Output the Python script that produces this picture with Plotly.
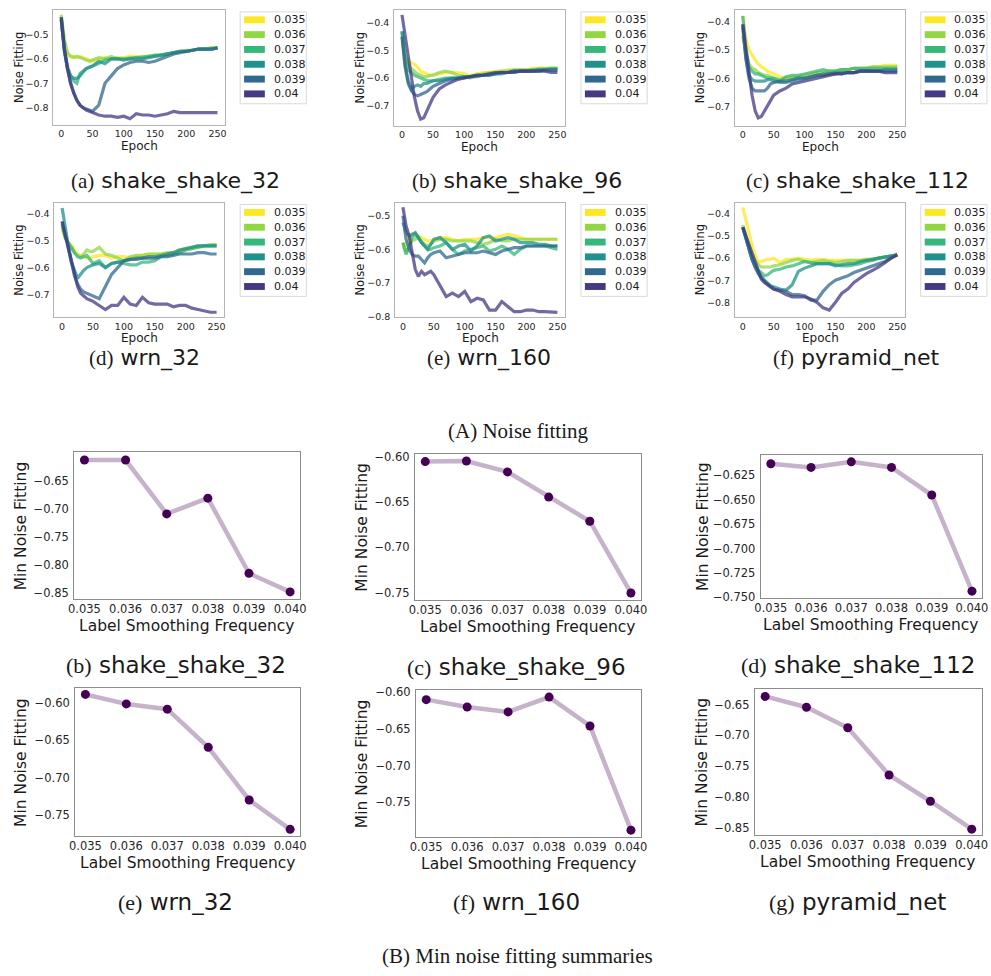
import plotly.graph_objects as go

W, H = 991, 976

# ---------------- data ----------------
EPOCHS = [0, 5, 10, 15, 20, 25, 30, 35, 40, 45, 50, 60, 70, 80, 90, 100, 110, 120,
          130, 140, 150, 160, 170, 180, 190, 200, 210, 220, 230, 240, 250]
LS_LABELS = ["0.035", "0.036", "0.037", "0.038", "0.039", "0.04"]
LS_FREQS = [0.035, 0.036, 0.037, 0.038, 0.039, 0.040]
COLORS = ["#fde725", "#90d743", "#35b779", "#21918c", "#31688e", "#443983"]
MODELS = ["shake_shake_32", "shake_shake_96", "shake_shake_112", "wrn_32", "wrn_160", "pyramid_net"]

NF_SHAKE_SHAKE_32 = [
    [-0.43,-0.53,-0.58,-0.59,-0.59,-0.595,-0.59,-0.595,-0.60,-0.605,-0.61,-0.60,-0.595,-0.60,-0.595,-0.595,-0.59,-0.59,-0.595,-0.59,-0.585,-0.585,-0.58,-0.575,-0.57,-0.57,-0.565,-0.56,-0.56,-0.555,-0.555],
    [-0.42,-0.52,-0.575,-0.59,-0.595,-0.59,-0.595,-0.60,-0.605,-0.61,-0.605,-0.595,-0.60,-0.59,-0.60,-0.60,-0.595,-0.595,-0.59,-0.59,-0.59,-0.585,-0.58,-0.575,-0.57,-0.565,-0.565,-0.56,-0.56,-0.555,-0.555],
    [-0.44,-0.56,-0.63,-0.67,-0.69,-0.70,-0.66,-0.65,-0.64,-0.635,-0.63,-0.62,-0.605,-0.60,-0.60,-0.60,-0.60,-0.595,-0.595,-0.59,-0.585,-0.585,-0.58,-0.575,-0.57,-0.57,-0.565,-0.56,-0.56,-0.56,-0.555],
    [-0.44,-0.57,-0.64,-0.67,-0.68,-0.68,-0.67,-0.655,-0.64,-0.635,-0.63,-0.61,-0.62,-0.60,-0.60,-0.605,-0.60,-0.60,-0.60,-0.595,-0.59,-0.585,-0.58,-0.575,-0.57,-0.57,-0.565,-0.56,-0.56,-0.56,-0.555],
    [-0.43,-0.56,-0.64,-0.70,-0.74,-0.77,-0.79,-0.80,-0.805,-0.81,-0.815,-0.79,-0.70,-0.67,-0.64,-0.625,-0.615,-0.61,-0.61,-0.615,-0.61,-0.60,-0.59,-0.58,-0.575,-0.57,-0.565,-0.56,-0.56,-0.56,-0.555],
    [-0.43,-0.56,-0.64,-0.70,-0.74,-0.77,-0.79,-0.80,-0.81,-0.815,-0.82,-0.83,-0.835,-0.835,-0.84,-0.835,-0.845,-0.825,-0.83,-0.83,-0.835,-0.83,-0.825,-0.815,-0.82,-0.82,-0.82,-0.82,-0.82,-0.82,-0.82],
]
NF_SHAKE_SHAKE_96 = [
    [-0.47,-0.52,-0.535,-0.545,-0.55,-0.56,-0.575,-0.58,-0.585,-0.59,-0.59,-0.585,-0.58,-0.58,-0.58,-0.585,-0.59,-0.585,-0.58,-0.58,-0.575,-0.575,-0.57,-0.57,-0.57,-0.57,-0.565,-0.565,-0.565,-0.565,-0.565],
    [-0.45,-0.52,-0.55,-0.565,-0.575,-0.585,-0.59,-0.595,-0.595,-0.59,-0.59,-0.58,-0.575,-0.58,-0.59,-0.595,-0.60,-0.59,-0.585,-0.58,-0.58,-0.575,-0.575,-0.57,-0.57,-0.57,-0.57,-0.565,-0.565,-0.565,-0.565],
    [-0.43,-0.53,-0.57,-0.58,-0.59,-0.595,-0.60,-0.605,-0.61,-0.61,-0.61,-0.605,-0.60,-0.60,-0.60,-0.595,-0.595,-0.59,-0.59,-0.585,-0.585,-0.58,-0.58,-0.575,-0.575,-0.575,-0.57,-0.57,-0.57,-0.565,-0.565],
    [-0.43,-0.55,-0.61,-0.64,-0.63,-0.625,-0.63,-0.62,-0.62,-0.615,-0.61,-0.61,-0.605,-0.60,-0.60,-0.595,-0.595,-0.59,-0.59,-0.59,-0.585,-0.585,-0.58,-0.58,-0.575,-0.575,-0.575,-0.57,-0.57,-0.57,-0.57],
    [-0.45,-0.56,-0.62,-0.645,-0.66,-0.665,-0.66,-0.655,-0.65,-0.64,-0.63,-0.62,-0.61,-0.605,-0.60,-0.60,-0.595,-0.595,-0.59,-0.59,-0.585,-0.58,-0.58,-0.58,-0.575,-0.575,-0.575,-0.575,-0.57,-0.57,-0.57],
    [-0.37,-0.45,-0.53,-0.60,-0.67,-0.72,-0.75,-0.745,-0.72,-0.695,-0.67,-0.64,-0.625,-0.615,-0.605,-0.60,-0.595,-0.59,-0.59,-0.585,-0.58,-0.58,-0.58,-0.575,-0.575,-0.575,-0.575,-0.575,-0.575,-0.58,-0.58],
]
NF_SHAKE_SHAKE_112 = [
    [-0.38,-0.46,-0.50,-0.52,-0.535,-0.55,-0.56,-0.565,-0.575,-0.58,-0.585,-0.595,-0.60,-0.595,-0.595,-0.59,-0.59,-0.585,-0.58,-0.58,-0.575,-0.57,-0.57,-0.565,-0.565,-0.565,-0.56,-0.56,-0.555,-0.555,-0.555],
    [-0.45,-0.51,-0.55,-0.565,-0.57,-0.58,-0.585,-0.59,-0.59,-0.595,-0.60,-0.605,-0.60,-0.60,-0.595,-0.59,-0.585,-0.58,-0.58,-0.575,-0.575,-0.57,-0.57,-0.565,-0.565,-0.565,-0.56,-0.56,-0.56,-0.56,-0.56],
    [-0.38,-0.50,-0.56,-0.575,-0.585,-0.585,-0.59,-0.595,-0.60,-0.60,-0.60,-0.61,-0.595,-0.59,-0.59,-0.585,-0.58,-0.575,-0.57,-0.575,-0.575,-0.57,-0.57,-0.565,-0.565,-0.565,-0.565,-0.565,-0.565,-0.565,-0.565],
    [-0.42,-0.53,-0.59,-0.605,-0.61,-0.61,-0.61,-0.61,-0.605,-0.605,-0.61,-0.615,-0.615,-0.61,-0.605,-0.60,-0.595,-0.59,-0.585,-0.585,-0.58,-0.585,-0.58,-0.58,-0.575,-0.575,-0.575,-0.575,-0.57,-0.57,-0.57],
    [-0.41,-0.53,-0.60,-0.635,-0.645,-0.645,-0.645,-0.645,-0.635,-0.62,-0.615,-0.61,-0.61,-0.605,-0.60,-0.60,-0.595,-0.59,-0.59,-0.585,-0.585,-0.58,-0.58,-0.58,-0.575,-0.575,-0.575,-0.575,-0.575,-0.575,-0.575],
    [-0.41,-0.50,-0.59,-0.66,-0.715,-0.74,-0.735,-0.715,-0.695,-0.68,-0.66,-0.645,-0.635,-0.62,-0.615,-0.61,-0.605,-0.60,-0.595,-0.59,-0.585,-0.585,-0.58,-0.58,-0.575,-0.575,-0.575,-0.575,-0.58,-0.58,-0.58],
]
NF_WRN_32 = [
    [-0.46,-0.49,-0.505,-0.52,-0.535,-0.55,-0.555,-0.56,-0.565,-0.565,-0.56,-0.555,-0.555,-0.565,-0.56,-0.56,-0.565,-0.56,-0.555,-0.55,-0.55,-0.55,-0.55,-0.55,-0.54,-0.535,-0.53,-0.525,-0.52,-0.52,-0.515],
    [-0.45,-0.49,-0.51,-0.53,-0.545,-0.555,-0.56,-0.55,-0.535,-0.54,-0.54,-0.525,-0.55,-0.555,-0.565,-0.575,-0.56,-0.555,-0.555,-0.55,-0.55,-0.55,-0.545,-0.545,-0.535,-0.53,-0.525,-0.52,-0.52,-0.515,-0.515],
    [-0.44,-0.49,-0.51,-0.525,-0.545,-0.56,-0.565,-0.56,-0.555,-0.57,-0.585,-0.575,-0.60,-0.585,-0.58,-0.585,-0.59,-0.59,-0.58,-0.58,-0.575,-0.56,-0.555,-0.55,-0.545,-0.535,-0.53,-0.525,-0.52,-0.52,-0.52],
    [-0.38,-0.46,-0.52,-0.58,-0.61,-0.64,-0.625,-0.61,-0.60,-0.595,-0.59,-0.585,-0.60,-0.585,-0.58,-0.575,-0.57,-0.565,-0.565,-0.56,-0.56,-0.555,-0.55,-0.545,-0.535,-0.53,-0.525,-0.52,-0.52,-0.52,-0.52],
    [-0.43,-0.48,-0.54,-0.59,-0.63,-0.66,-0.68,-0.69,-0.695,-0.70,-0.705,-0.715,-0.67,-0.625,-0.60,-0.575,-0.57,-0.57,-0.565,-0.565,-0.565,-0.56,-0.56,-0.555,-0.55,-0.55,-0.55,-0.545,-0.545,-0.55,-0.55],
    [-0.43,-0.48,-0.53,-0.58,-0.625,-0.67,-0.695,-0.705,-0.715,-0.72,-0.725,-0.74,-0.755,-0.74,-0.74,-0.71,-0.735,-0.74,-0.71,-0.73,-0.735,-0.735,-0.735,-0.745,-0.74,-0.74,-0.75,-0.755,-0.76,-0.765,-0.765],
]
NF_WRN_160 = [
    [-0.60,-0.58,-0.565,-0.555,-0.555,-0.56,-0.565,-0.57,-0.575,-0.575,-0.57,-0.565,-0.565,-0.57,-0.575,-0.57,-0.57,-0.57,-0.565,-0.565,-0.565,-0.56,-0.555,-0.56,-0.565,-0.57,-0.57,-0.57,-0.57,-0.57,-0.57],
    [-0.58,-0.61,-0.59,-0.575,-0.57,-0.565,-0.575,-0.585,-0.59,-0.585,-0.575,-0.57,-0.57,-0.575,-0.575,-0.575,-0.575,-0.58,-0.585,-0.58,-0.57,-0.575,-0.575,-0.57,-0.57,-0.57,-0.57,-0.57,-0.57,-0.57,-0.57],
    [-0.58,-0.615,-0.59,-0.565,-0.555,-0.565,-0.58,-0.59,-0.60,-0.60,-0.595,-0.59,-0.58,-0.60,-0.615,-0.605,-0.60,-0.595,-0.59,-0.605,-0.60,-0.59,-0.60,-0.615,-0.60,-0.59,-0.59,-0.59,-0.59,-0.595,-0.60],
    [-0.52,-0.55,-0.56,-0.555,-0.55,-0.565,-0.58,-0.59,-0.60,-0.585,-0.57,-0.565,-0.58,-0.60,-0.59,-0.585,-0.605,-0.59,-0.565,-0.56,-0.575,-0.57,-0.565,-0.57,-0.58,-0.58,-0.58,-0.585,-0.585,-0.59,-0.59],
    [-0.50,-0.57,-0.60,-0.615,-0.62,-0.62,-0.63,-0.64,-0.625,-0.615,-0.61,-0.605,-0.625,-0.62,-0.615,-0.61,-0.61,-0.61,-0.605,-0.61,-0.615,-0.605,-0.60,-0.595,-0.595,-0.59,-0.59,-0.59,-0.59,-0.59,-0.59],
    [-0.475,-0.53,-0.56,-0.61,-0.66,-0.68,-0.665,-0.675,-0.67,-0.665,-0.675,-0.71,-0.74,-0.73,-0.74,-0.725,-0.755,-0.745,-0.75,-0.78,-0.78,-0.755,-0.77,-0.785,-0.785,-0.78,-0.78,-0.785,-0.785,-0.785,-0.787],
]
NF_PYRAMID_NET = [
    [-0.37,-0.43,-0.48,-0.54,-0.585,-0.62,-0.615,-0.61,-0.605,-0.605,-0.60,-0.62,-0.605,-0.605,-0.60,-0.605,-0.61,-0.605,-0.605,-0.61,-0.61,-0.61,-0.61,-0.61,-0.61,-0.605,-0.605,-0.60,-0.595,-0.59,-0.58],
    [-0.45,-0.50,-0.54,-0.58,-0.61,-0.63,-0.64,-0.64,-0.64,-0.64,-0.635,-0.63,-0.62,-0.61,-0.605,-0.615,-0.62,-0.615,-0.61,-0.615,-0.62,-0.615,-0.61,-0.61,-0.61,-0.605,-0.605,-0.60,-0.595,-0.59,-0.585],
    [-0.46,-0.51,-0.56,-0.605,-0.63,-0.655,-0.665,-0.68,-0.675,-0.665,-0.655,-0.65,-0.64,-0.635,-0.625,-0.615,-0.62,-0.625,-0.625,-0.625,-0.63,-0.635,-0.635,-0.63,-0.625,-0.615,-0.61,-0.60,-0.595,-0.59,-0.585],
    [-0.46,-0.51,-0.56,-0.605,-0.64,-0.665,-0.685,-0.70,-0.715,-0.725,-0.73,-0.74,-0.745,-0.72,-0.66,-0.645,-0.635,-0.625,-0.625,-0.625,-0.635,-0.63,-0.625,-0.625,-0.615,-0.61,-0.605,-0.60,-0.595,-0.59,-0.585],
    [-0.46,-0.51,-0.56,-0.605,-0.64,-0.67,-0.69,-0.705,-0.72,-0.73,-0.74,-0.745,-0.75,-0.765,-0.765,-0.77,-0.79,-0.79,-0.75,-0.72,-0.70,-0.69,-0.68,-0.665,-0.655,-0.645,-0.635,-0.625,-0.615,-0.60,-0.585],
    [-0.46,-0.50,-0.54,-0.58,-0.62,-0.66,-0.695,-0.71,-0.72,-0.73,-0.74,-0.75,-0.765,-0.775,-0.775,-0.775,-0.785,-0.80,-0.825,-0.835,-0.80,-0.76,-0.74,-0.71,-0.69,-0.67,-0.655,-0.64,-0.62,-0.60,-0.585],
]

MIN_SHAKE_SHAKE_32 = [-0.613, -0.613, -0.709, -0.681, -0.815, -0.848]
MIN_SHAKE_SHAKE_96 = [-0.6054, -0.6048, -0.6168, -0.6446, -0.6712, -0.7503]
MIN_SHAKE_SHAKE_112 = [-0.6132, -0.6169, -0.6112, -0.6169, -0.6452, -0.7437]
MIN_WRN_32 = [-0.5885, -0.6013, -0.6083, -0.6595, -0.7300, -0.7693]
MIN_WRN_160 = [-0.6102, -0.6202, -0.6269, -0.6067, -0.6461, -0.7878]
MIN_PYRAMID_NET = [-0.6367, -0.6543, -0.6876, -0.7645, -0.8073, -0.8527]

Y_TICKS_A = [[-0.8, -0.7, -0.6, -0.5], [-0.7, -0.6, -0.5, -0.4], [-0.7, -0.6, -0.5, -0.4],
             [-0.7, -0.6, -0.5, -0.4], [-0.8, -0.7, -0.6, -0.5], [-0.8, -0.7, -0.6, -0.5, -0.4]]
Y_TICKS_B = [[-0.85, -0.80, -0.75, -0.70, -0.65], [-0.75, -0.70, -0.65, -0.60],
             [-0.750, -0.725, -0.700, -0.675, -0.650, -0.625], [-0.75, -0.70, -0.65, -0.60],
             [-0.75, -0.70, -0.65, -0.60], [-0.85, -0.80, -0.75, -0.70, -0.65]]
X_TICKS_A = [0, 50, 100, 150, 200, 250]

NF_SERIES = [NF_SHAKE_SHAKE_32, NF_SHAKE_SHAKE_96, NF_SHAKE_SHAKE_112, NF_WRN_32, NF_WRN_160, NF_PYRAMID_NET]
MIN_SERIES = [MIN_SHAKE_SHAKE_32, MIN_SHAKE_SHAKE_96, MIN_SHAKE_SHAKE_112, MIN_WRN_32, MIN_WRN_160, MIN_PYRAMID_NET]

# ---------------- layout geometry (pixels) ----------------
BOX_A = [(48, 222, 5, 121), (393, 566, 5, 122), (738, 910, 5, 122),
         (49, 221, 200, 316), (394, 566, 200, 316), (738, 910, 200, 316)]
YR_A = [(-0.869, -0.400), (-0.773, -0.352), (-0.767, -0.359),
        (-0.783, -0.360), (-0.801, -0.461), (-0.867, -0.348)]
BOX_B = [(69, 298, 453, 601), (414, 643, 455, 602), (764, 988, 456, 600),
         (70, 298, 692, 841), (415, 643, 694, 842), (758, 988, 693, 840)]
YR_B = [(-0.860, -0.5995), (-0.7576, -0.5975), (-0.7503, -0.6046),
        (-0.7778, -0.5806), (-0.7966, -0.5977), (-0.8617, -0.6254)]
TICKFMT_B = [".2f", ".2f", ".3f", ".2f", ".2f", ".2f"]
CAP_A = [(172, 178, "(a)"), (517, 178, "(b)"), (862, 178, "(c)"),
         (140, 357, "(d)"), (489, 357, "(e)"), (860, 357, "(f)")]
CAP_B = [(172, 668, "(b)"), (517, 670, "(c)"), (862, 668, "(d)"),
         (172, 908, "(e)"), (517, 908, "(f)"), (862, 908, "(g)")]
LEG_LEFT = [237, 582, 926]
LEG_TOP = [7, 202]
YTITLE_A_X = [13, 358, 702]
YTITLE_B_X = [15, 360, 705]

TICK_FONT = "DejaVu Sans"


def px(x):
    return x / W


def py(y):
    return 1 - y / H


fig = go.Figure()
layout = dict(width=W, height=H, margin=dict(l=0, r=0, t=0, b=0),
              paper_bgcolor="white", plot_bgcolor="white", showlegend=False,
              shapes=[], annotations=[])


def axis_names(k):
    return ("xaxis" if k == 1 else f"xaxis{k}", "yaxis" if k == 1 else f"yaxis{k}",
            "x" if k == 1 else f"x{k}", "y" if k == 1 else f"y{k}")


def base_axis(domain, rng, anchor, tickvals, fmt, size, linecolor, ticklen):
    return dict(domain=domain, range=rng, anchor=anchor, showline=True, mirror=True,
                linecolor=linecolor, linewidth=1, showgrid=False, zeroline=False,
                ticks="outside" if ticklen > 0 else "", ticklen=max(ticklen, 0.1),
                tickcolor="rgba(0,0,0,0)",
                tickvals=tickvals, tickformat=fmt,
                tickfont=dict(family=TICK_FONT, size=size, color="#262626"))


def ann(x, y, text, size, family=TICK_FONT, angle=0, xanchor="center", color="#1a1a1a"):
    layout["annotations"].append(dict(x=px(x), y=py(y), xref="paper", yref="paper", text=text,
                                      showarrow=False, textangle=angle, xanchor=xanchor,
                                      yanchor="middle", borderpad=0,
                                      font=dict(family=family, size=size, color=color)))


# ---------- (A) noise fitting curves ----------
for i in range(6):
    k = i + 1
    xa, ya, xr, yr = axis_names(k)
    l, r, t, b = BOX_A[i]
    layout[xa] = base_axis([px(l), px(r)], [-12.5, 262.5], yr, X_TICKS_A, "d", 9.5, "#b5b5b5", 0)
    layout[ya] = base_axis([py(b), py(t)], list(YR_A[i]), xr, Y_TICKS_A[i], ".1f", 9.5, "#b5b5b5", 2)
    for j, series in enumerate(NF_SERIES[i]):
        fig.add_trace(go.Scatter(x=EPOCHS, y=series, mode="lines", xaxis=xr, yaxis=yr,
                                 line=dict(color=COLORS[j], width=3.2), opacity=0.75,
                                 name=LS_LABELS[j]))
    # axis titles
    ann((l + r) / 2, b + 21.5, "Epoch", 12)
    ann(YTITLE_A_X[i % 3], (t + b) / 2, "Noise Fitting", 11.5, angle=-90)
    # legend (manual)
    L = LEG_LEFT[i % 3]
    T = LEG_TOP[i // 3]
    layout["shapes"].append(dict(type="rect", xref="paper", yref="paper",
                                 x0=px(L), x1=px(L + 67), y0=py(T + 93), y1=py(T),
                                 line=dict(color="#d9d9d9", width=1), fillcolor="white"))
    for j, lab in enumerate(LS_LABELS):
        cy = T + 8 + 15 * j
        layout["shapes"].append(dict(type="rect", xref="paper", yref="paper",
                                     x0=px(L + 4), x1=px(L + 25), y0=py(cy + 3.5), y1=py(cy - 3.5),
                                     line=dict(width=0), fillcolor=COLORS[j]))
        ann(L + 33, cy, lab, 11, xanchor="left")
    cx, cy, letter = CAP_A[i]
    ann(cx, cy, f'<span style="font-family:Liberation Serif;font-size:21px">{letter}</span> {MODELS[i]}', 22)

ann(518, 431, "(A) Noise fitting", 21, family="Liberation Serif")

# ---------- (B) min noise fitting summaries ----------
for i in range(6):
    k = i + 7
    xa, ya, xr, yr = axis_names(k)
    l, r, t, b = BOX_B[i]
    layout[xa] = base_axis([px(l), px(r)], [0.03475, 0.04025], yr, LS_FREQS, ".3f", 11.5, "#8c8c8c", 0)
    layout[ya] = base_axis([py(b), py(t)], list(YR_B[i]), xr, Y_TICKS_B[i], TICKFMT_B[i], 11.5, "#8c8c8c", 2)
    fig.add_trace(go.Scatter(x=LS_FREQS, y=MIN_SERIES[i], mode="lines", xaxis=xr, yaxis=yr,
                             line=dict(color="rgba(68,1,84,0.3)", width=4.5)))
    fig.add_trace(go.Scatter(x=LS_FREQS, y=MIN_SERIES[i], mode="markers", xaxis=xr, yaxis=yr,
                             marker=dict(color="#440154", size=9)))
    ann((l + r) / 2, b + 28, "Label Smoothing Frequency", 15.5)
    ann(YTITLE_B_X[i % 3], (t + b) / 2, "Min Noise Fitting", 15.5, angle=-90)
    cx, cy, letter = CAP_B[i]
    ann(cx, cy, f'<span style="font-family:Liberation Serif;font-size:22px">{letter}</span> {MODELS[i]}', 23)

ann(518, 963, "(B) Min noise fitting summaries", 21, family="Liberation Serif")

fig.update_layout(**layout)
fig.write_html("out.html")
